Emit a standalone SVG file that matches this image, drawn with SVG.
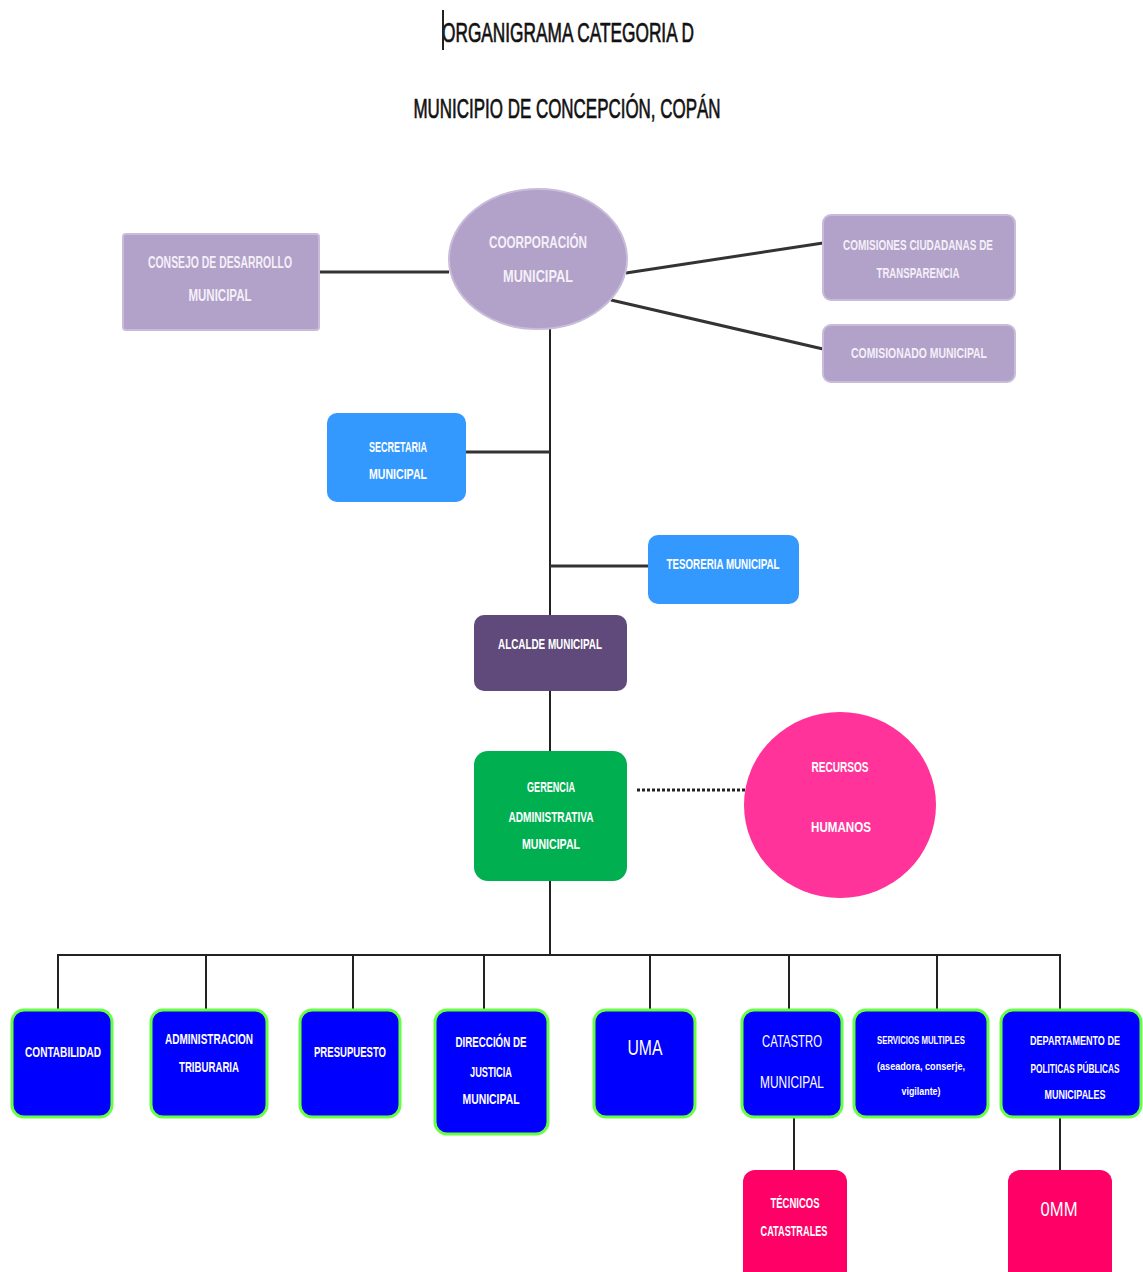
<svg xmlns="http://www.w3.org/2000/svg" width="1143" height="1272" viewBox="0 0 1143 1272">
<style>
text{font-family:"Liberation Sans",Arial,sans-serif;fill:#ffffff;text-anchor:middle;font-weight:bold}
.ttl{fill:#111;font-size:27px;font-weight:normal;stroke:#111;stroke-width:0.7}
.pl{fill:#b2a1c8}
.pt{fill:#f4f0f8;font-size:15px}
.bl{fill:#3399ff}
.bt{font-size:15px}
.dk{fill:#0000ff;stroke:#66ff44;stroke-width:3}
.dt{font-size:15px}
.pk{fill:#ff0066}
.cn{stroke:#222;stroke-width:2;fill:none}
.ct{stroke:#333;stroke-width:3;fill:none}
</style>
<rect width="1143" height="1272" fill="#ffffff"/>
<g id="title">
<text class="ttl" x="568" y="42" textLength="252" lengthAdjust="spacingAndGlyphs">ORGANIGRAMA CATEGORIA D</text>
<line x1="443" y1="10" x2="443" y2="50" stroke="#222" stroke-width="2"/>
<text class="ttl" x="567" y="118" textLength="307" lengthAdjust="spacingAndGlyphs">MUNICIPIO DE CONCEPCIÓN, COPÁN</text>
</g>
<g id="connectors">
<line class="ct" x1="319" y1="272" x2="449" y2="272"/>
<line class="ct" x1="626" y1="273" x2="823" y2="243"/>
<line class="ct" x1="611" y1="300" x2="823" y2="349"/>
<line class="cn" x1="550" y1="329" x2="550" y2="615"/>
<line class="ct" x1="466" y1="452" x2="550" y2="452"/>
<line class="ct" x1="550" y1="566" x2="648" y2="566"/>
<line class="cn" x1="550" y1="691" x2="550" y2="751"/>
<line x1="637" y1="790" x2="745" y2="790" stroke="#222" stroke-width="3" stroke-dasharray="3,2"/>
<line class="cn" x1="550" y1="881" x2="550" y2="955"/>
<line class="cn" x1="57" y1="955" x2="1061" y2="955"/>
<line class="cn" x1="58" y1="955" x2="58" y2="1010"/>
<line class="cn" x1="206" y1="955" x2="206" y2="1010"/>
<line class="cn" x1="353" y1="955" x2="353" y2="1010"/>
<line class="cn" x1="484" y1="955" x2="484" y2="1010"/>
<line class="cn" x1="650" y1="955" x2="650" y2="1010"/>
<line class="cn" x1="789" y1="955" x2="789" y2="1010"/>
<line class="cn" x1="937" y1="955" x2="937" y2="1010"/>
<line class="cn" x1="1060" y1="955" x2="1060" y2="1010"/>
<line class="cn" x1="794" y1="1117" x2="794" y2="1172"/>
<line class="cn" x1="1060" y1="1117" x2="1060" y2="1172"/>
</g>
<g id="coorporacion">
<ellipse class="pl" cx="538" cy="259" rx="89" ry="70" stroke="#c9bcdb" stroke-width="2"/>
<text class="pt" x="538" y="248" textLength="98" lengthAdjust="spacingAndGlyphs" style="font-size:17px">COORPORACIÓN</text>
<text class="pt" x="538" y="282" textLength="70" lengthAdjust="spacingAndGlyphs" style="font-size:17px">MUNICIPAL</text>
</g>
<g id="consejo">
<rect class="pl" x="123" y="234" width="196" height="96" rx="3" stroke="#c9bcdb" stroke-width="2"/>
<text class="pt" x="220" y="268" textLength="144" lengthAdjust="spacingAndGlyphs" style="font-size:16px">CONSEJO DE DESARROLLO</text>
<text class="pt" x="220" y="301" textLength="63" lengthAdjust="spacingAndGlyphs" style="font-size:16px">MUNICIPAL</text>
</g>
<g id="comisiones">
<rect class="pl" x="823" y="215" width="192" height="85" rx="8" stroke="#c9bcdb" stroke-width="2"/>
<text class="pt" x="918" y="250" textLength="150" lengthAdjust="spacingAndGlyphs">COMISIONES CIUDADANAS DE</text>
<text class="pt" x="918" y="278" textLength="83" lengthAdjust="spacingAndGlyphs">TRANSPARENCIA</text>
</g>
<g id="comisionado">
<rect class="pl" x="823" y="325" width="192" height="57" rx="8" stroke="#c9bcdb" stroke-width="2"/>
<text class="pt" x="919" y="358" textLength="136" lengthAdjust="spacingAndGlyphs">COMISIONADO MUNICIPAL</text>
</g>
<g id="secretaria">
<rect class="bl" x="327" y="413" width="139" height="89" rx="10"/>
<text class="bt" x="398" y="452" textLength="58" lengthAdjust="spacingAndGlyphs">SECRETARIA</text>
<text class="bt" x="398" y="479" textLength="58" lengthAdjust="spacingAndGlyphs">MUNICIPAL</text>
</g>
<g id="tesoreria">
<rect class="bl" x="648" y="535" width="151" height="69" rx="10"/>
<text class="bt" x="723" y="569" textLength="113" lengthAdjust="spacingAndGlyphs">TESORERIA MUNICIPAL</text>
</g>
<g id="alcalde">
<rect x="474" y="615" width="153" height="76" rx="10" fill="#5f4a7b"/>
<text class="bt" x="550" y="649" textLength="104" lengthAdjust="spacingAndGlyphs">ALCALDE MUNICIPAL</text>
</g>
<g id="gerencia">
<rect x="474" y="751" width="153" height="130" rx="14" fill="#00b050"/>
<text class="bt" x="551" y="792" textLength="48" lengthAdjust="spacingAndGlyphs">GERENCIA</text>
<text class="bt" x="551" y="822" textLength="85" lengthAdjust="spacingAndGlyphs">ADMINISTRATIVA</text>
<text class="bt" x="551" y="849" textLength="58" lengthAdjust="spacingAndGlyphs">MUNICIPAL</text>
</g>
<g id="recursos">
<ellipse cx="840" cy="805" rx="96" ry="93" fill="#ff3399"/>
<text class="bt" x="840" y="772" textLength="57" lengthAdjust="spacingAndGlyphs">RECURSOS</text>
<text class="bt" x="841" y="832" textLength="60" lengthAdjust="spacingAndGlyphs">HUMANOS</text>
</g>
<g id="contabilidad">
<rect class="dk" x="12" y="1010" width="100" height="107" rx="12"/>
<text class="dt" x="63" y="1057" textLength="76" lengthAdjust="spacingAndGlyphs">CONTABILIDAD</text>
</g>
<g id="tributaria">
<rect class="dk" x="151" y="1010" width="116" height="107" rx="12"/>
<text class="dt" x="209" y="1044" textLength="88" lengthAdjust="spacingAndGlyphs">ADMINISTRACION</text>
<text class="dt" x="209" y="1072" textLength="60" lengthAdjust="spacingAndGlyphs">TRIBURARIA</text>
</g>
<g id="presupuesto">
<rect class="dk" x="300" y="1010" width="100" height="107" rx="12"/>
<text class="dt" x="350" y="1057" textLength="72" lengthAdjust="spacingAndGlyphs">PRESUPUESTO</text>
</g>
<g id="justicia">
<rect class="dk" x="435" y="1010" width="113" height="124" rx="12"/>
<text class="dt" x="491" y="1047" textLength="71" lengthAdjust="spacingAndGlyphs">DIRECCIÓN DE</text>
<text class="dt" x="491" y="1077" textLength="42" lengthAdjust="spacingAndGlyphs">JUSTICIA</text>
<text class="dt" x="491" y="1104" textLength="57" lengthAdjust="spacingAndGlyphs">MUNICIPAL</text>
</g>
<g id="uma">
<rect class="dk" x="594" y="1010" width="101" height="107" rx="12"/>
<text x="645" y="1055" textLength="35" lengthAdjust="spacingAndGlyphs" style="font-size:22px;font-weight:normal">UMA</text>
</g>
<g id="catastro">
<rect class="dk" x="742" y="1010" width="100" height="107" rx="12"/>
<text x="792" y="1047" textLength="60" lengthAdjust="spacingAndGlyphs" style="font-size:17px;font-weight:normal">CATASTRO</text>
<text x="792" y="1088" textLength="64" lengthAdjust="spacingAndGlyphs" style="font-size:17px;font-weight:normal">MUNICIPAL</text>
</g>
<g id="servicios">
<rect class="dk" x="854" y="1010" width="134" height="107" rx="12"/>
<text x="921" y="1044" textLength="88" lengthAdjust="spacingAndGlyphs" style="font-size:10px">SERVICIOS MULTIPLES</text>
<text x="921" y="1070" textLength="88" lengthAdjust="spacingAndGlyphs" style="font-size:10px">(aseadora,  conserje,</text>
<text x="921" y="1095" textLength="39" lengthAdjust="spacingAndGlyphs" style="font-size:10px">vigilante)</text>
</g>
<g id="departamento">
<rect class="dk" x="1001" y="1010" width="140" height="107" rx="12"/>
<text x="1075" y="1045" textLength="90" lengthAdjust="spacingAndGlyphs" style="font-size:12px">DEPARTAMENTO DE</text>
<text x="1075" y="1073" textLength="89" lengthAdjust="spacingAndGlyphs" style="font-size:12px">POLITICAS PÚBLICAS</text>
<text x="1075" y="1099" textLength="61" lengthAdjust="spacingAndGlyphs" style="font-size:12px">MUNICIPALES</text>
</g>
<g id="tecnicos">
<rect class="pk" x="743" y="1170" width="104" height="120" rx="12"/>
<text class="dt" x="795" y="1208" textLength="49" lengthAdjust="spacingAndGlyphs">TÉCNICOS</text>
<text class="dt" x="794" y="1236" textLength="67" lengthAdjust="spacingAndGlyphs">CATASTRALES</text>
</g>
<g id="omm">
<rect class="pk" x="1008" y="1170" width="104" height="120" rx="12"/>
<text x="1059" y="1216" textLength="37" lengthAdjust="spacingAndGlyphs" style="font-size:20px;font-weight:normal">0MM</text>
</g>
</svg>
